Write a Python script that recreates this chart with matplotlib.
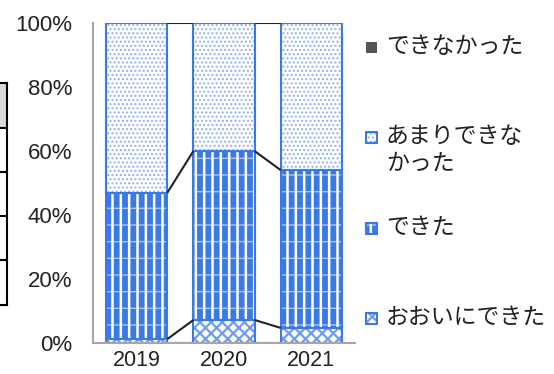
import numpy as np
import matplotlib
matplotlib.use("Agg")
import matplotlib.pyplot as plt
from matplotlib.patches import Rectangle
from matplotlib.lines import Line2D

plt.rcParams['font.family'] = ['Liberation Sans', 'Noto Sans CJK JP', 'DejaVu Sans']

# データ (割合)
years = ['2019', '2020', '2021']
series = ['おおいにできた', 'できた', 'あまりできなかった', 'できなかった']
legend_labels = ['おおいにできた', 'できた', 'あまりできな\nかった', 'できなかった']
ooini = [0.012, 0.072, 0.047]
dekita = [0.457, 0.528, 0.493]
amari = [0.531, 0.400, 0.460]
dekinakatta = [0.0, 0.0, 0.0]
values = [ooini, dekita, amari, dekinakatta]

blue = '#3b7ae6'
# (塗り, ハッチ色, ハッチ, ハッチ線幅) を重ねて描く
layers = [
    [('white', '#6f9cec', 'xxx', 1.6)],
    [(blue, 'white', '||', 1.8), ('none', (1, 1, 1, 0.55), '-', 1.0)],
    [('white', '#8fb2ee', '....', 1.0)],
    [('#555555', '#555555', '', 1.0)],
]

W, H = 554, 374
fig = plt.figure(figsize=(W / 100, H / 100), dpi=100)
ax = fig.add_axes([93 / W, 1 - 343 / H, (355 - 93) / W, (343 - 23) / H])

x = np.arange(len(years))
width = 0.7
bottom = np.zeros(len(years))
for vals, layer in zip(values[:3], layers[:3]):
    vals = np.array(vals)
    for fc, hc, hatch, hlw in layer:
        plt.rcParams['hatch.linewidth'] = hlw
        ax.bar(x, vals, width, bottom=bottom, color=fc, edgecolor=hc, hatch=hatch, linewidth=0)
    ax.bar(x, vals, width, bottom=bottom, fill=False, edgecolor=blue, linewidth=1.5)
    bottom = bottom + vals

# 区分線
cum = np.vstack([np.zeros(len(years)), np.cumsum(np.array(values[:3]), axis=0)])
for level in cum:
    for i in range(len(years) - 1):
        ax.plot([x[i] + width / 2, x[i + 1] - width / 2], [level[i], level[i + 1]],
                color='#222222', linewidth=1.5, solid_capstyle='butt')

ax.set_xlim(-0.5, 2.5)
ax.set_ylim(0, 1)
ax.set_yticks(np.linspace(0, 1, 6))
ax.set_yticklabels(['0%', '20%', '40%', '60%', '80%', '100%'])
ax.set_xticks(x)
ax.set_xticklabels(years)
ax.tick_params(axis='y', length=0, pad=15, labelsize=16, colors='#222222')
ax.tick_params(axis='x', length=0, pad=5, labelsize=15.5, colors='#222222')
for s in ['top', 'right']:
    ax.spines[s].set_visible(False)
ax.spines['left'].set_color('#a6a6a6')
ax.spines['bottom'].set_color('#a6a6a6')
ax.spines['left'].set_linewidth(1.5)
ax.spines['bottom'].set_linewidth(1.5)

# 凡例 (手描き)
leg_y = [318, 228, 137, 47]
for lab, layer, yy in zip(legend_labels, layers, leg_y):
    for fc, hc, hatch, hlw in layer:
        plt.rcParams['hatch.linewidth'] = hlw
        fig.add_artist(Rectangle((366 / W, 1 - (yy + 6) / H), 11 / W, 11 / H,
                                 facecolor=fc, edgecolor=hc, hatch=hatch, linewidth=0,
                                 transform=fig.transFigure))
    if layer[0][2]:
        fig.add_artist(Rectangle((366 / W, 1 - (yy + 6) / H), 11 / W, 11 / H,
                                 fill=False, edgecolor=blue, linewidth=1.5,
                                 transform=fig.transFigure))
    fig.text(386 / W, 1 - (yy - 12) / H, lab, fontsize=16.5, va='top', ha='left',
             color='#222222', family=['Noto Sans CJK JP', 'DejaVu Sans'], linespacing=1.2)

# 左端の表の切れ端
rows = [83, 128, 172, 216, 260, 305]
fig.add_artist(Rectangle((0, 1 - rows[1] / H), 7 / W, (rows[1] - rows[0]) / H,
                         facecolor='#d9d9d9', edgecolor='none', transform=fig.transFigure))
fig.add_artist(Line2D([7 / W, 7 / W], [1 - rows[0] / H, 1 - rows[-1] / H],
                      color='black', linewidth=1.5, transform=fig.transFigure))
for r in rows:
    fig.add_artist(Line2D([0, 7 / W], [1 - r / H, 1 - r / H],
                          color='black', linewidth=1.5, transform=fig.transFigure))

fig.savefig('out.png', dpi=100)
